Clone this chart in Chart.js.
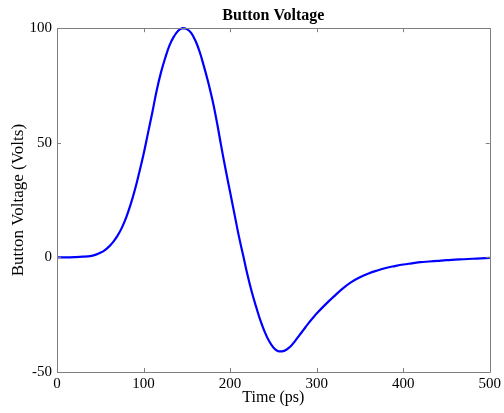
<!DOCTYPE html>
<html>
<head>
<meta charset="utf-8">
<script src="https://cdn.jsdelivr.net/npm/chart.js@4/dist/chart.umd.min.js"></script>
<style>
  html, body { margin: 0; padding: 0; background: #fff; }
  #wrap { width: 504px; height: 413px; }
</style>
</head>
<body>
<div id="wrap"><canvas id="chartButton"></canvas></div>
<script>
// time axis (ps) and pulse voltage (Volts); finer steps across the pulse
const timePs = [0, 10, 20, 30, 40, 45, 50, 55, 60, 65,
  70, 75, 80, 85, 90, 95, 100, 105, 110, 115,
  120, 125, 130, 135, 140, 145, 150, 155, 160, 165,
  170, 175, 180, 185, 190, 195, 200, 205, 210, 215,
  220, 225, 230, 235, 240, 245, 250, 255, 260, 265,
  270, 275, 280, 285, 290, 295, 300, 310, 320, 330,
  340, 350, 360, 370, 380, 390, 400, 410, 420, 430,
  440, 450, 460, 470, 480, 490, 500]
const voltage = [0, 0, 0.1, 0.3, 0.7, 1.2, 2.0, 3.1, 4.7, 6.8,
  9.5, 13, 17.5, 23, 29.5, 37, 45, 54, 63, 72.5,
  80.5, 87, 92.5, 96.3, 98.9, 100, 99.6, 98, 94.5, 89.5,
  83, 76, 68, 58.5, 48, 38, 28.5, 19, 9.5, 1,
  -7.5, -15, -21.5, -27.5, -32.5, -36.5, -39.3, -40.8, -41, -40.3,
  -38.8, -36.5, -34, -31.5, -29, -26.7, -24.5, -20.6, -17, -13.6,
  -10.8, -8.7, -7, -5.7, -4.6, -3.8, -3.1, -2.6, -2.1, -1.8,
  -1.5, -1.2, -1.0, -0.8, -0.6, -0.4, -0.2]
const xTicks = [0, 100, 200, 300, 400, 500]
const yTicks = [-50, 0, 50, 100]

const serif = 'Liberation Serif'

// grey box round the plot with short inward tick marks on every side
const boxTicks = {
  id: 'boxTicks',
  afterDraw (chart) {
    const { ctx, chartArea: a, scales } = chart
    const len = 4
    ctx.save()
    ctx.strokeStyle = '#808080'
    ctx.lineWidth = 1
    ctx.beginPath()
    ctx.rect(Math.round(a.left) + 0.5, Math.round(a.top) + 0.5,
      Math.round(a.right - a.left), Math.round(a.bottom - a.top))
    xTicks.forEach(v => {
      const x = Math.round(scales.x.getPixelForValue(v)) + 0.5
      ctx.moveTo(x, a.bottom); ctx.lineTo(x, a.bottom - len)
      ctx.moveTo(x, a.top); ctx.lineTo(x, a.top + len)
    })
    yTicks.forEach(v => {
      const y = Math.round(scales.y.getPixelForValue(v)) + 0.5
      ctx.moveTo(a.left, y); ctx.lineTo(a.left + len, y)
      ctx.moveTo(a.right, y); ctx.lineTo(a.right - len, y)
    })
    ctx.stroke()
    ctx.restore()
  }
}

const config = {
  type: 'line',
  data: {
    labels: timePs,
    datasets: [{
      label: 'Button Voltage',
      data: timePs.map((t, i) => ({ x: t, y: voltage[i] })),
      borderColor: '#0000ff',
      borderWidth: 2.2,
      pointRadius: 0,
      tension: 0.4,
      clip: false
    }]
  },
  options: {
    responsive: true,
    maintainAspectRatio: false,
    animation: false,
    layout: { padding: { left: 0, right: 11, top: 0, bottom: 0 } },
    plugins: {
      legend: { display: false },
      tooltip: { enabled: false },
      title: {
        display: true,
        text: 'Button Voltage',
        fullSize: false,
        color: '#000',
        font: { family: serif, size: 16, weight: 'bold', lineHeight: 1.2 },
        padding: { top: 6, bottom: 3 }
      }
    },
    scales: {
      x: {
        type: 'linear',
        min: 0,
        max: 500,
        afterBuildTicks (scale) { scale.ticks = xTicks.map(v => ({ value: v })) },
        afterFit (scale) { scale.height = 41 },
        grid: { display: false, drawTicks: false },
        border: { display: false },
        ticks: { color: '#000', padding: 3, maxRotation: 0, font: { family: serif, size: 15 } },
        title: {
          display: true,
          text: 'Time (ps)',
          color: '#000',
          font: { family: serif, size: 16, lineHeight: 1.2 },
          padding: { top: 0, bottom: 6 }
        }
      },
      y: {
        min: -50,
        max: 100,
        afterBuildTicks (scale) { scale.ticks = yTicks.map(v => ({ value: v })) },
        afterFit (scale) { scale.width = 57 },
        grid: { display: false, drawTicks: false },
        border: { display: false },
        ticks: { color: '#000', padding: 5, font: { family: serif, size: 15 } },
        title: {
          display: true,
          text: 'Button Voltage (Volts)',
          color: '#000',
          font: { family: serif, size: 17, lineHeight: 1.2 },
          padding: { top: 8, bottom: 0 }
        }
      }
    }
  },
  plugins: [boxTicks]
}

window.buttonChart = new Chart(document.getElementById('chartButton').getContext('2d'), config)
</script>
</body>
</html>
